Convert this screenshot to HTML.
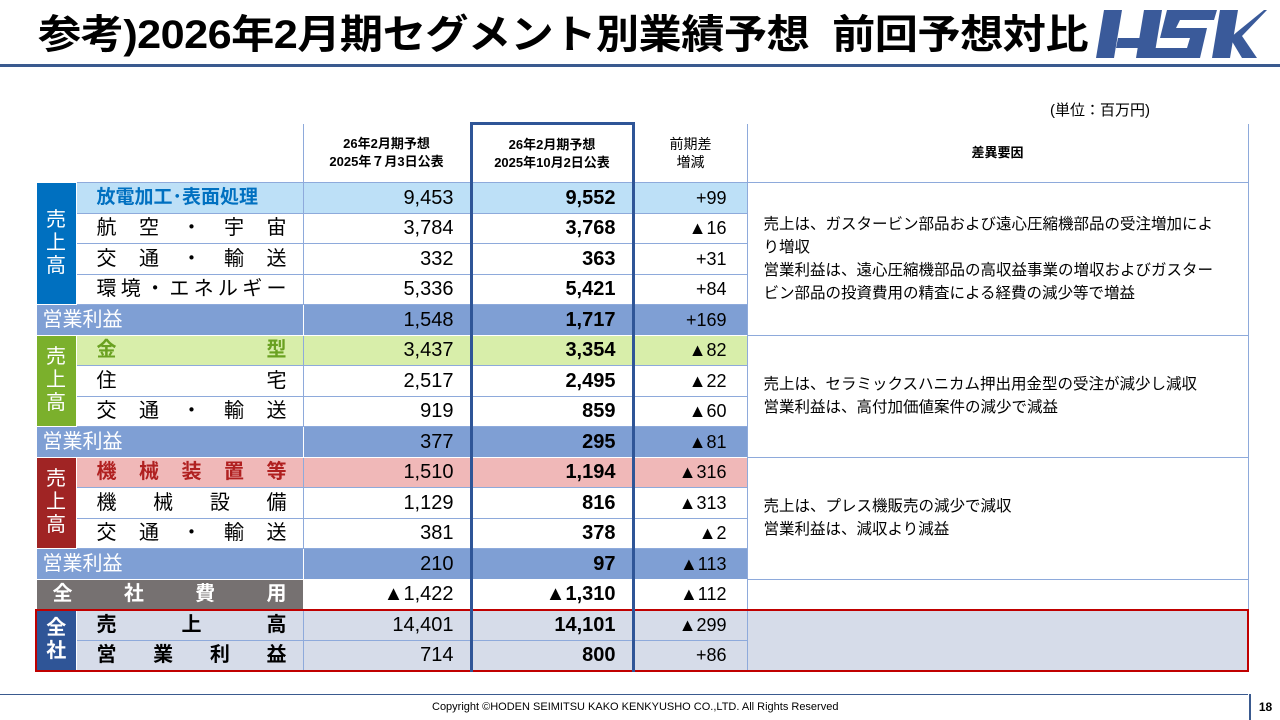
<!DOCTYPE html>
<html><head><meta charset="utf-8"><style>
*{margin:0;padding:0;box-sizing:border-box}
body{width:1280px;height:720px;background:#fff;position:relative;overflow:hidden;font-family:"Liberation Sans","Noto Sans CJK JP",sans-serif;color:#000}
.title{position:absolute;left:38px;top:8px;font-size:40px;font-weight:bold;letter-spacing:-0.5px;white-space:nowrap;line-height:54px;transform-origin:0 0;transform:scaleX(1.08)}
.hl{position:absolute;left:0;top:64px;width:1280px;height:3px;background:#3a5a8f}
.logo{position:absolute;left:1092px;top:8px}
.unit{position:absolute;left:1050px;top:99px;font-size:15px}
table{position:absolute;left:35px;top:122px;border-collapse:collapse;table-layout:fixed}
td{height:30.5px;font-size:20px;padding:0;border:1px solid #8eaadb;line-height:28px;white-space:nowrap;overflow:hidden}
.n{text-align:right;padding-right:16px}
.b{font-weight:bold}
.d{text-align:right;padding-right:20px;font-size:18px}
.c2{border-left:3px solid #2f5597;border-right:3px solid #2f5597}
.nm{padding:0 16px 0 20px}
.nm div{display:flex;justify-content:space-between}
.lab{color:#fff;text-align:center;font-size:20px;line-height:23px;border-color:#fff}
.pr td{background:#7f9fd4;border-color:#fff}
.pr td.c2{border-left:3px solid #2f5597;border-right:3px solid #2f5597}
.pr .pl{color:#fff;padding-left:6px}
.rs{font-size:15.5px;line-height:23px;padding:0 26px 0 16px;vertical-align:middle;white-space:normal;border-right:1px solid #8eaadb;background:#fff}
.hd td{height:59px;text-align:center;font-size:13px;font-weight:bold;line-height:18px;border-top:none}
.tot td{background:#d6dce9}
.foot{position:absolute;left:0;top:694px;width:1248px;height:1px;background:#3a5a8f}
.copy{position:absolute;left:432px;top:701px;font-size:11px}
.pg{position:absolute;left:1249px;top:694px;width:31px;height:26px;border-left:2px solid #3a5a8f;font-size:12px;font-weight:bold;text-align:center;line-height:26px}
</style></head><body>
<div class="title">参考)2026年2月期セグメント別業績予想&nbsp;&nbsp;前回予想対比</div>
<svg class="logo" width="175" height="55" viewBox="0 0 175 55"><g fill="#3a5a9a">
<polygon points="12,2 30,2 22,50 4,50"/><polygon points="26,30 60,30 58,40 24,40"/><polygon points="52,2 70,2 62,50 44,50"/>
<polygon points="75,2 125,2 122,12 88,12 84,20 115,20 108,50 58,50 60,40 95,40 98,30 68,30"/>
<polygon points="128,2 146,2 138,50 120,50"/><polygon points="145,24 172,2 175,2 150,28 165,50 150,50 138,30"/></g></svg>
<div class="hl"></div>
<div class="unit">(単位：百万円)</div>
<table>
<colgroup><col style="width:40px"><col style="width:227px"><col style="width:168px"><col style="width:162px"><col style="width:114px"><col style="width:501px"></colgroup>
<tr class="hd"><td colspan="2" style="border:none;border-right:1px solid #8eaadb"></td><td>26年2月期予想<br>2025年７月3日公表</td><td class="c2" style="border-top:3px solid #2f5597">26年2月期予想<br>2025年10月2日公表</td><td style="font-weight:normal;font-size:14px">前期差<br>増減</td><td>差異要因</td></tr>
<tr style="background:#bde0f7"><td rowspan="4" class="lab" style="background:#0070c0">売<br>上<br>高</td><td class="nm b" style="color:#0070c0;font-size:19px">放電加工･表面処理</td><td class="n">9,453</td><td class="n b c2">9,552</td><td class="d">+99</td><td rowspan="5" class="rs">売上は、ガスタービン部品および遠心圧縮機部品の受注増加により増収<br>営業利益は、遠心圧縮機部品の高収益事業の増収およびガスタービン部品の投資費用の精査による経費の減少等で増益</td></tr>
<tr><td class="nm"><div><span>航</span><span>空</span><span>・</span><span>宇</span><span>宙</span></div></td><td class="n">3,784</td><td class="n b c2">3,768</td><td class="d">▲16</td></tr>
<tr><td class="nm"><div><span>交</span><span>通</span><span>・</span><span>輸</span><span>送</span></div></td><td class="n">332</td><td class="n b c2">363</td><td class="d">+31</td></tr>
<tr><td class="nm"><div><span>環</span><span>境</span><span>・</span><span>エ</span><span>ネ</span><span>ル</span><span>ギ</span><span>ー</span></div></td><td class="n">5,336</td><td class="n b c2">5,421</td><td class="d">+84</td></tr>
<tr class="pr"><td colspan="2" class="pl">営業利益</td><td class="n">1,548</td><td class="n b c2">1,717</td><td class="d">+169</td></tr>
<tr style="background:#d8eeaa"><td rowspan="3" class="lab" style="background:#7bb02c">売<br>上<br>高</td><td class="nm b" style="color:#6aa121"><div><span>金</span><span>型</span></div></td><td class="n">3,437</td><td class="n b c2">3,354</td><td class="d">▲82</td><td rowspan="4" class="rs">売上は、セラミックスハニカム押出用金型の受注が減少し減収<br>営業利益は、高付加価値案件の減少で減益</td></tr>
<tr><td class="nm"><div><span>住</span><span>宅</span></div></td><td class="n">2,517</td><td class="n b c2">2,495</td><td class="d">▲22</td></tr>
<tr><td class="nm"><div><span>交</span><span>通</span><span>・</span><span>輸</span><span>送</span></div></td><td class="n">919</td><td class="n b c2">859</td><td class="d">▲60</td></tr>
<tr class="pr"><td colspan="2" class="pl">営業利益</td><td class="n">377</td><td class="n b c2">295</td><td class="d">▲81</td></tr>
<tr style="background:#f0b8b8"><td rowspan="3" class="lab" style="background:#a02424">売<br>上<br>高</td><td class="nm b" style="color:#b02020"><div><span>機</span><span>械</span><span>装</span><span>置</span><span>等</span></div></td><td class="n">1,510</td><td class="n b c2">1,194</td><td class="d">▲316</td><td rowspan="4" class="rs">売上は、プレス機販売の減少で減収<br>営業利益は、減収より減益</td></tr>
<tr><td class="nm"><div><span>機</span><span>械</span><span>設</span><span>備</span></div></td><td class="n">1,129</td><td class="n b c2">816</td><td class="d">▲313</td></tr>
<tr><td class="nm"><div><span>交</span><span>通</span><span>・</span><span>輸</span><span>送</span></div></td><td class="n">381</td><td class="n b c2">378</td><td class="d">▲2</td></tr>
<tr class="pr"><td colspan="2" class="pl">営業利益</td><td class="n">210</td><td class="n b c2">97</td><td class="d">▲113</td></tr>
<tr><td colspan="2" class="b" style="background:#767171;color:#fff;padding:0 16px 0 16px;border-color:#fff"><div style="display:flex;justify-content:space-between"><span>全</span><span>社</span><span>費</span><span>用</span></div></td><td class="n">▲1,422</td><td class="n b c2">▲1,310</td><td class="d">▲112</td><td></td></tr>
<tr class="tot"><td rowspan="2" class="lab b" style="background:#2f5597;border:2px solid #c00000;border-right:1px solid #fff">全<br>社</td><td class="nm b" style="border-top:2px solid #c00000"><div><span>売</span><span>上</span><span>高</span></div></td><td class="n" style="border-top:2px solid #c00000">14,401</td><td class="n b c2" style="border-top:2px solid #c00000">14,101</td><td class="d" style="border-top:2px solid #c00000">▲299</td><td rowspan="2" style="border:2px solid #c00000;border-left:1px solid #8eaadb"></td></tr>
<tr class="tot"><td class="nm b" style="border-bottom:2px solid #c00000"><div><span>営</span><span>業</span><span>利</span><span>益</span></div></td><td class="n" style="border-bottom:2px solid #c00000">714</td><td class="n b c2" style="border-bottom:2px solid #c00000">800</td><td class="d" style="border-bottom:2px solid #c00000">+86</td></tr>
</table>
<div class="foot"></div>
<div class="copy">Copyright ©HODEN SEIMITSU KAKO KENKYUSHO CO.,LTD. All Rights Reserved</div>
<div class="pg">18</div>
</body></html>
